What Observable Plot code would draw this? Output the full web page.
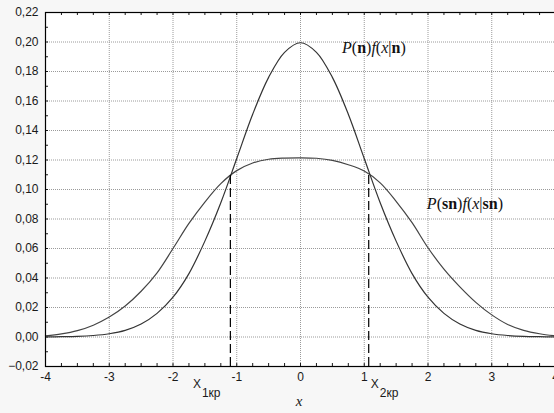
<!DOCTYPE html>
<html>
<head>
<meta charset="utf-8">
<script src="https://cdn.jsdelivr.net/npm/d3@7"></script>
<script src="https://cdn.jsdelivr.net/npm/@observablehq/plot@0.6"></script>
<style>
  html, body { margin: 0; padding: 0; background: #f7f7f7; overflow: hidden; width: 554px; height: 413px; }
  #chart { width: 556px; }
</style>
</head>
<body>
<div id="chart"></div>
<script>
// x positions of the sampled curves
const xValues = [-4, -3.75, -3.5, -3.25, -3, -2.75, -2.5, -2.25, -2, -1.75, -1.5, -1.25, -1, -0.75, -0.5, -0.25,
  0, 0.25, 0.5, 0.75, 1, 1.25, 1.5, 1.75, 2, 2.25, 2.5, 2.75, 3, 3.25, 3.5, 3.75, 4];
// P(n) f(x|n)
const noiseValues = [0.0001, 0.0002, 0.0004, 0.001, 0.0022, 0.0045, 0.0088, 0.016, 0.027, 0.043, 0.065, 0.091, 0.121, 0.151, 0.176, 0.193,
  0.1995, 0.193, 0.176, 0.151, 0.121, 0.091, 0.065, 0.043, 0.027, 0.016, 0.0088, 0.0045, 0.0022, 0.001, 0.0004, 0.0002, 0.0001];
// P(sn) f(x|sn)
const signalValues = [0.0008, 0.0021, 0.0043, 0.008, 0.0135, 0.021, 0.031, 0.0435, 0.060, 0.077, 0.0915, 0.104, 0.1128, 0.118, 0.1205, 0.1213,
  0.1215, 0.1212, 0.1198, 0.1168, 0.1125, 0.1045, 0.092, 0.0775, 0.0605, 0.046, 0.034, 0.0235, 0.015, 0.0085, 0.0045, 0.0022, 0.0008];
// critical points (dashed lines) and the level where the curves cross
const critX = [-1.1, 1.07];
const critY = 0.11;
const critLabels = ["1кр", "2кр"];
const critLabelX = [-1.68, 1.11];
// axis ticks
const xTicks = [-4, -3, -2, -1, 0, 1, 2, 3, 4];
const yTicks = [-0.02, 0, 0.02, 0.04, 0.06, 0.08, 0.10, 0.12, 0.14, 0.16, 0.18, 0.20, 0.22];
const xMinor = d3.range(-4, 4.001, 0.25);
const yMinor = d3.range(-0.02, 0.2201, 0.01);
// curve labels
const curveLabels = [
  {x: 0.66, y: 0.192, parts: [["P","i"],["(",""],["n","b"],[")",""],["f","i"],["(",""],["x","i"],["|",""],["n","b"],[")",""]]},
  {x: 1.99, y: 0.0865, parts: [["P","i"],["(",""],["sn","b"],[")",""],["f","i"],["(",""],["x","i"],["|",""],["sn","b"],[")",""]]}
];

const noiseData = xValues.map((x, i) => ({x, y: noiseValues[i]}));
const signalData = xValues.map((x, i) => ({x, y: signalValues[i]}));
const critData = critX.map((x, i) => ({x, label: critLabels[i], lx: critLabelX[i]}));

const W = 556, H = 413, mL = 45, mR = 1, mT = 12, mB = 47;
const innerW = W - mL - mR, innerH = H - mT - mB;
const ink = "#1a1a1a";

const plot = Plot.plot({
  width: W, height: H,
  marginLeft: mL, marginRight: mR, marginTop: mT, marginBottom: mB,
  style: {fontFamily: "'Liberation Sans', Arial, sans-serif", fontSize: "12px", background: "transparent", color: ink},
  x: {domain: [-4, 4]},
  y: {domain: [-0.02, 0.22]},
  marks: [
    Plot.frame({fill: "white", stroke: "none"}),
    Plot.gridX(xTicks, {stroke: "#9a9a9a", strokeOpacity: 1, strokeDasharray: "1,1"}),
    Plot.gridY(yTicks, {stroke: "#9a9a9a", strokeOpacity: 1, strokeDasharray: "1,1"}),
    // inward minor ticks
    Plot.tickX(xMinor, {x: d => d, insetTop: innerH - 3, stroke: ink}),
    Plot.tickX(xMinor, {x: d => d, insetBottom: innerH - 3, stroke: ink}),
    Plot.tickY(yMinor, {y: d => d, insetRight: innerW - 3, stroke: ink}),
    Plot.line(signalData, {x: "x", y: "y", stroke: "#444", strokeWidth: 1.2, curve: "catmull-rom"}),
    Plot.line(noiseData, {x: "x", y: "y", stroke: "#333", strokeWidth: 1.2, curve: "catmull-rom"}),
    Plot.ruleX(critData, {x: "x", y1: -0.02, y2: critY, stroke: "#000", strokeWidth: 1.2, strokeDasharray: "9,4"}),
    Plot.frame({stroke: "#000", strokeWidth: 1.2}),
    Plot.axisX(xTicks, {tickSize: 0, tickPadding: 6, tickFormat: d => String(d), label: null, fill: ink}),
    Plot.axisY(yTicks, {tickSize: 0, tickPadding: 7, tickFormat: d => d3.format(".2f")(d).replace(".", ","), label: null, fill: ink})
  ]
});

document.getElementById("chart").appendChild(plot);

const sx = plot.scale("x"), sy = plot.scale("y");
const svg = d3.select(plot);

// curve labels with mixed styling
for (const lab of curveLabels) {
  const t = svg.append("text")
    .attr("x", sx.apply(lab.x)).attr("y", sy.apply(lab.y))
    .attr("text-anchor", "start")
    .attr("font-family", "'Liberation Serif', 'Times New Roman', serif")
    .attr("font-size", 16).attr("fill", "#111");
  for (const [s, st] of lab.parts) {
    t.append("tspan").text(s)
      .attr("font-style", st === "i" ? "italic" : "normal")
      .attr("font-weight", st === "b" ? "bold" : "normal");
  }
}

// X_кр labels
for (const c of critData) {
  const t = svg.append("text")
    .attr("x", sx.apply(c.lx)).attr("y", 388)
    .attr("text-anchor", "start")
    .attr("font-family", "'Liberation Sans', Arial, sans-serif")
    .attr("font-size", 12).attr("fill", ink);
  t.append("tspan").text("X");
  t.append("tspan").text(c.label).attr("dy", 9).attr("dx", 1).attr("font-size", 12);
}

// axis title
svg.append("text")
  .attr("x", sx.apply(0) - 1).attr("y", 406)
  .attr("text-anchor", "middle")
  .attr("font-family", "'Liberation Serif', 'Times New Roman', serif")
  .attr("font-style", "italic").attr("font-size", 15).attr("fill", ink)
  .text("x");
</script>
</body>
</html>
